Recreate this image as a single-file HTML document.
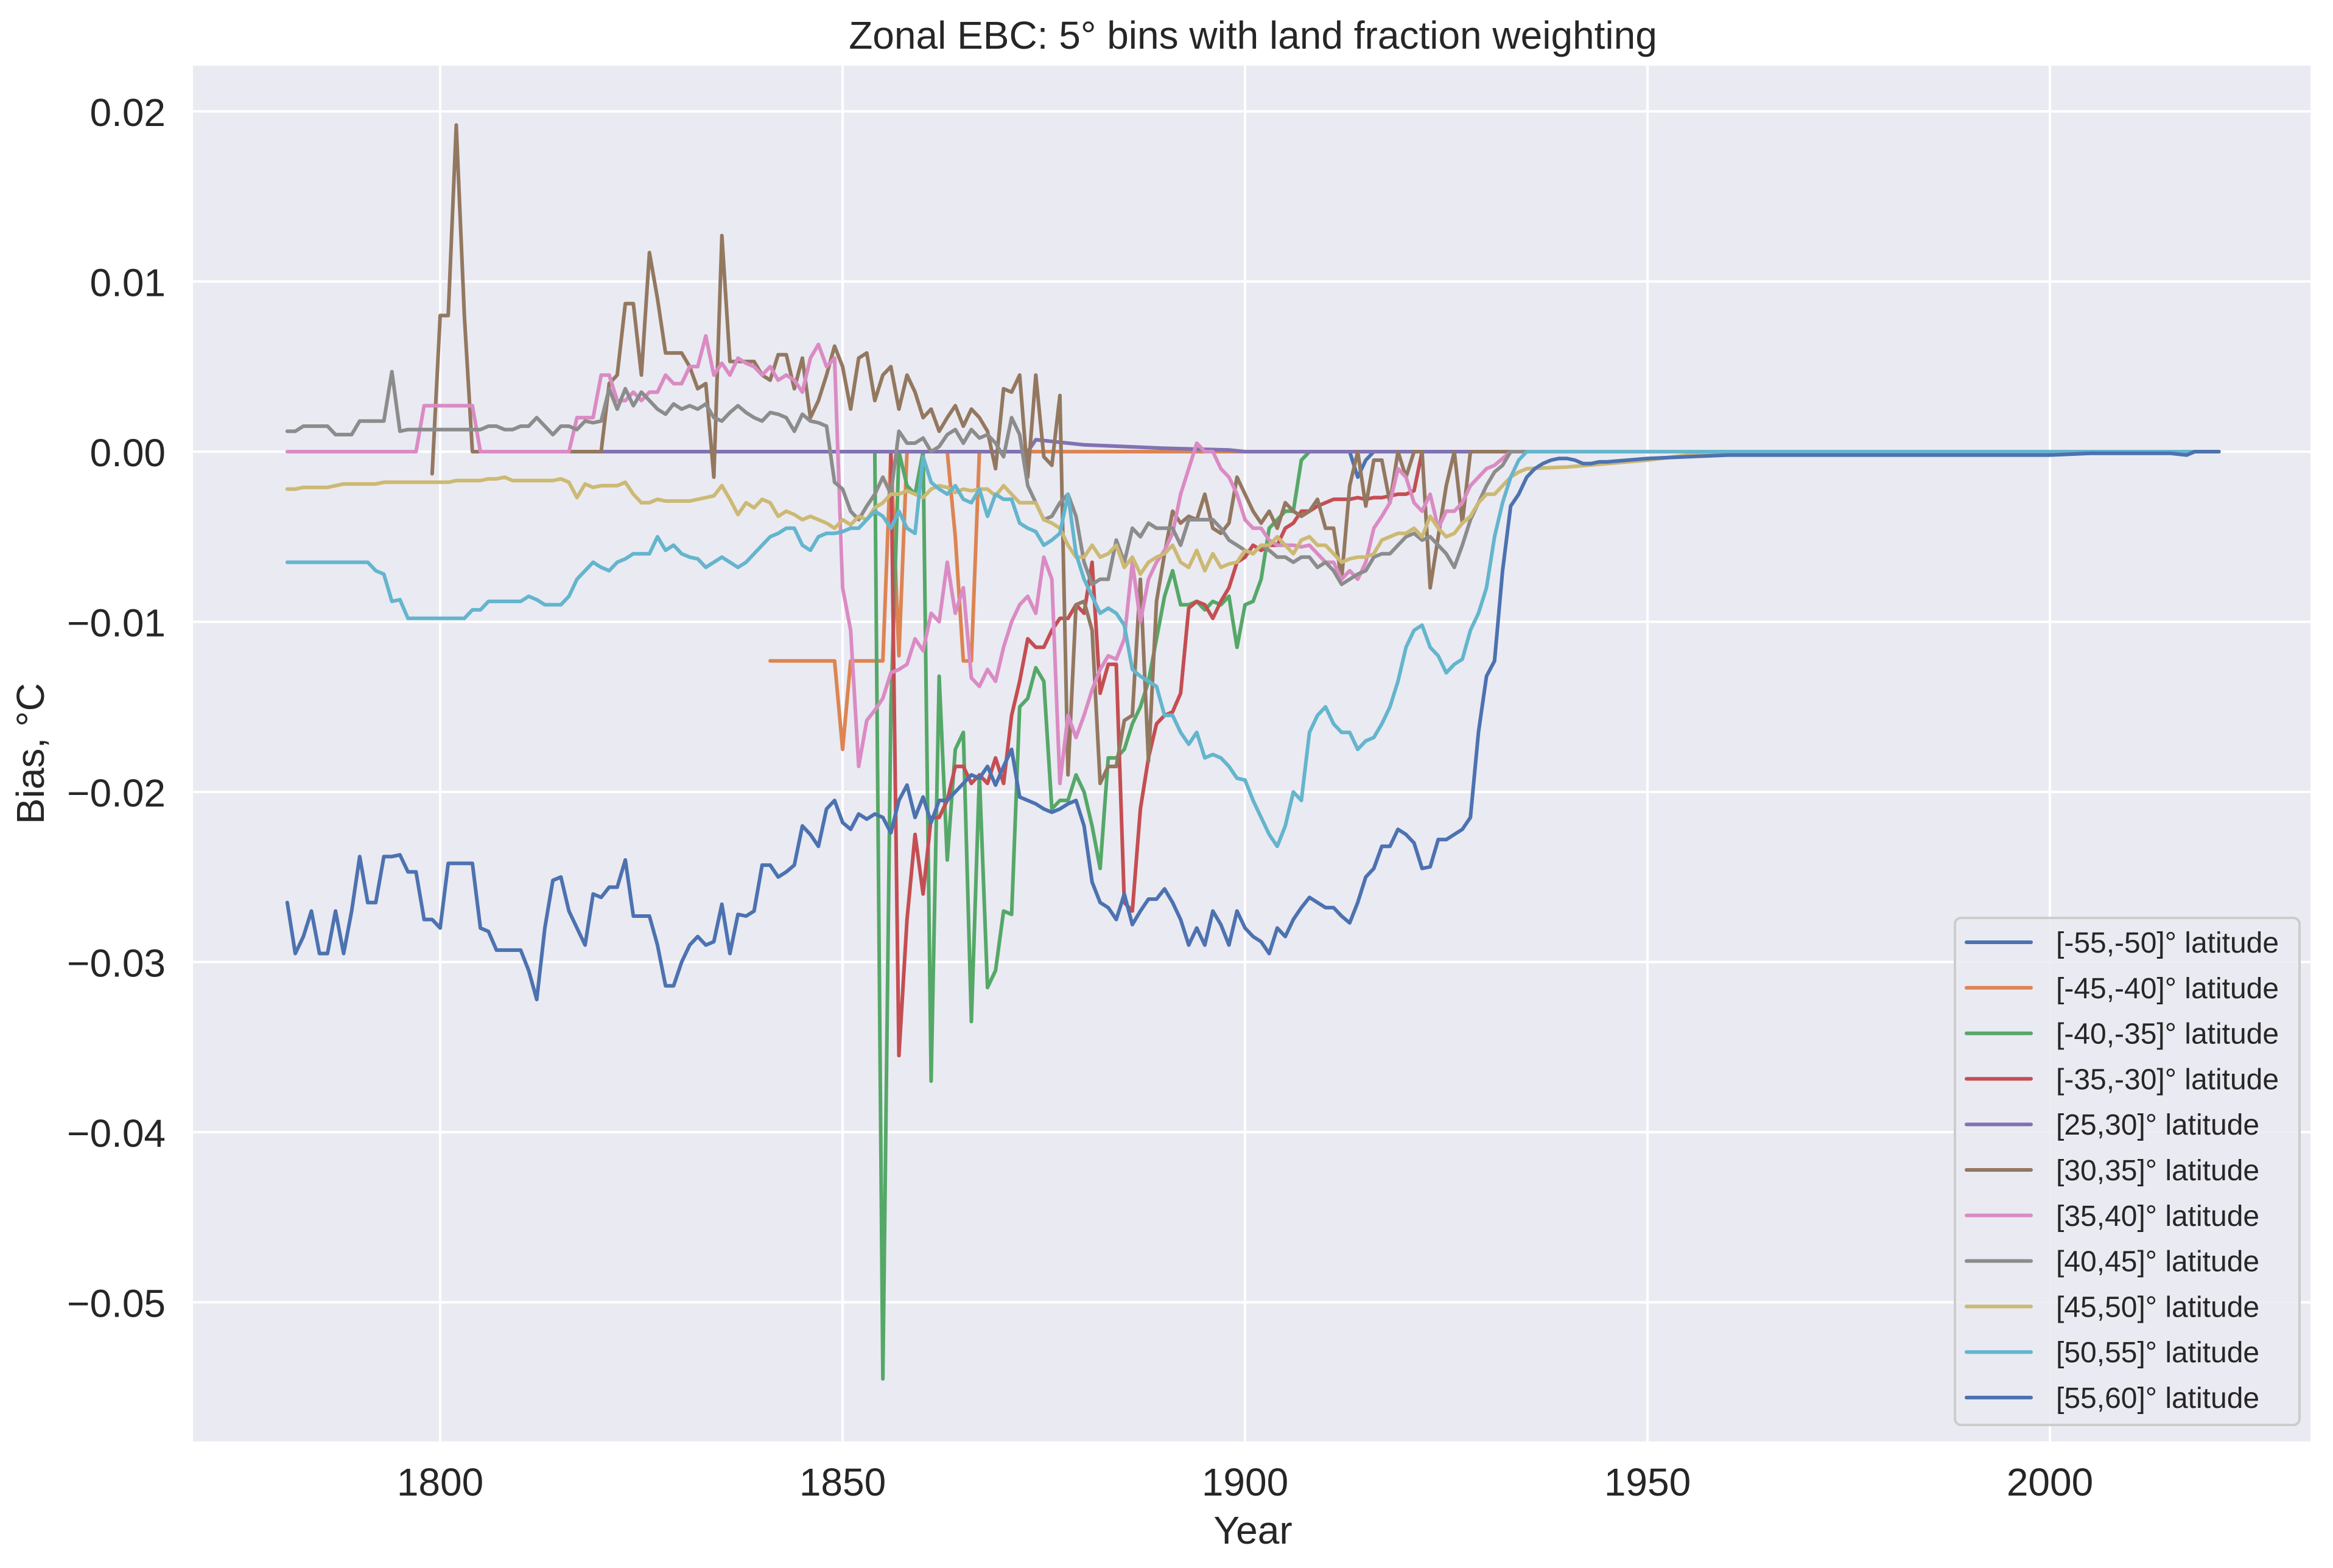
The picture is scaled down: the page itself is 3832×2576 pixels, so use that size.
<!DOCTYPE html>
<html><head><meta charset="utf-8"><title>Zonal EBC</title>
<style>html,body{margin:0;padding:0;background:#fff}svg{display:block}</style></head>
<body>
<svg id="chart" xmlns="http://www.w3.org/2000/svg" width="3832" height="2576" viewBox="0 0 3832 2576" font-family="Liberation Sans, Arial, sans-serif">
<rect x="0" y="0" width="3832" height="2576" fill="#ffffff"/>
<rect x="317" y="108" width="3478" height="2260" fill="#eaeaf2"/>
<g id="grid"></g>
<g id="ticks"></g>
<clipPath id="clip"><rect x="317" y="108" width="3478" height="2260"/></clipPath>
<g id="series" clip-path="url(#clip)"></g>
<text x="2058" y="80" text-anchor="middle" font-size="64" fill="#262626">Zonal EBC: 5° bins with land fraction weighting</text>
<text x="2058" y="2536" text-anchor="middle" font-size="64" fill="#262626">Year</text>
<text x="0" y="0" transform="translate(72,1238) rotate(-90)" text-anchor="middle" font-size="64" fill="#262626">Bias, °C</text>
<g id="legend"></g>
</svg>
<script>
const xTicks = [1800, 1850, 1900, 1950, 2000];
const yTicks = [0.02, 0.01, 0, -0.01, -0.02, -0.03, -0.04, -0.05];
const yTickLabels = ["0.02","0.01","0.00","\u22120.01","\u22120.02","\u22120.03","\u22120.04","\u22120.05"];
const seriesNames = ["[-55,-50]° latitude","[-45,-40]° latitude","[-40,-35]° latitude","[-35,-30]° latitude","[25,30]° latitude","[30,35]° latitude","[35,40]° latitude","[40,45]° latitude","[45,50]° latitude","[50,55]° latitude","[55,60]° latitude"];
const seriesColors = ["#4c72b0","#dd8452","#55a868","#c44e52","#8172b3","#937860","#da8bc3","#8c8c8c","#ccb974","#64b5cd","#4c72b0"];

const s0Start = 1913;
const s0Vals = [0,-0.0015,-0.0005,0,0,0];
const s0TailYears = [1950,2000,2021];
const s0TailVals = [0,0,0];

const s1Start = 1841;
const s1Vals = [-0.0123,-0.0123,-0.0123,-0.0123,-0.0123,-0.0123,-0.0123,-0.0123,-0.0123,-0.0175,-0.0123,-0.0123,-0.0123,-0.0123,-0.0123,0,-0.012,0,0,0,0,0,0,-0.005,-0.0123,-0.0123,0];
const s1TailYears = [1880,1900];
const s1TailVals = [0,0];

const s2Start = 1854;
const s2Vals = [0,-0.0545,-0.015,0,-0.002,-0.0025,0,-0.037,-0.0132,-0.024,-0.0175,-0.0165,-0.0335,-0.019,-0.0315,-0.0305,-0.027,-0.0272,-0.015,-0.0145,-0.0127,-0.0135,-0.021,-0.0205,-0.0205,-0.019,-0.02,-0.022,-0.0245,-0.018,-0.018,-0.0175,-0.016,-0.015,-0.0135,-0.011,-0.0085,-0.007,-0.009,-0.009,-0.0088,-0.0093,-0.0088,-0.009,-0.0085,-0.0115,-0.009,-0.0088,-0.0075,-0.0045,-0.004,-0.0035,-0.0035,-0.0005,0];
const s2TailYears = [1950,2000,2021];
const s2TailVals = [0,0,0];

const s3Start = 1856;
const s3Vals = [0,-0.0355,-0.0275,-0.0225,-0.026,-0.0215,-0.0215,-0.0205,-0.0185,-0.0185,-0.0195,-0.019,-0.0195,-0.018,-0.0195,-0.0155,-0.0135,-0.011,-0.0115,-0.0115,-0.0105,-0.0098,-0.0098,-0.009,-0.0095,-0.0065,-0.0142,-0.0125,-0.0125,-0.0265,-0.027,-0.021,-0.018,-0.016,-0.0155,-0.0153,-0.0142,-0.0092,-0.0088,-0.009,-0.0098,-0.0088,-0.008,-0.0065,-0.0062,-0.0055,-0.0058,-0.0055,-0.0055,-0.0045,-0.0042,-0.0035,-0.0035,-0.0032,-0.003,-0.0028,-0.0028,-0.0028,-0.0027,-0.0028,-0.0027,-0.0027,-0.0026,-0.0025,-0.0025,-0.0023,0];
const s3TailYears = [1950,2000,2021];
const s3TailVals = [0,0,0];

const s4Start = 1816;
const s4Vals = [0,0,0,0,0,0,0,0,0,0];
const s4TailYears = [1873,1874,1880,1890,1898,1900,1950,2021];
const s4TailVals = [0,0.0007,0.0004,0.0002,0.0001,0,0,0];

const s5Start = 1799;
const s5Vals = [-0.0013,0.008,0.008,0.0192,0.008,0,0,0,0,0,0,0,0,0,0,0,0,0,0,0,0,0,0.004,0.0045,0.0087,0.0087,0.0045,0.0117,0.009,0.0058,0.0058,0.0058,0.005,0.0037,0.004,-0.0015,0.0127,0.0053,0.0053,0.0053,0.0053,0.0045,0.0042,0.0057,0.0057,0.0037,0.0055,0.002,0.003,0.0045,0.0062,0.005,0.0025,0.0055,0.0058,0.003,0.0045,0.005,0.0025,0.0045,0.0035,0.002,0.0025,0.0012,0.002,0.0027,0.0015,0.0025,0.002,0.0012,-0.001,0.0037,0.0035,0.0045,-0.0015,0.0045,-0.0003,-0.0008,0.0033,-0.019,-0.009,-0.0088,-0.0105,-0.0195,-0.0185,-0.0185,-0.0158,-0.0155,-0.0075,-0.0182,-0.0088,-0.006,-0.0035,-0.0042,-0.0038,-0.004,-0.0025,-0.0045,-0.0048,-0.0042,-0.0015,-0.0025,-0.0035,-0.0042,-0.0035,-0.0045,-0.003,-0.0035,-0.0038,-0.0035,-0.0028,-0.0045,-0.0045,-0.0075,-0.002,0,-0.0032,-0.0005,-0.0005,-0.003,0,-0.0015,0,0,-0.008,-0.005,-0.002,0,-0.0042,0,0];
const s5TailYears = [1950,2000,2021];
const s5TailVals = [0,0,0];

const s6Start = 1781;
const s6Vals = [0,0,0,0,0,0,0,0,0,0,0,0,0,0,0,0,0,0.0027,0.0027,0.0027,0.0027,0.0027,0.0027,0.0027,0,0,0,0,0,0,0,0,0,0,0,0,0.002,0.002,0.002,0.0045,0.0045,0.003,0.003,0.0035,0.003,0.0035,0.0035,0.0045,0.004,0.004,0.005,0.005,0.0068,0.0045,0.0052,0.0045,0.0055,0.0052,0.005,0.0045,0.005,0.0042,0.0045,0.0042,0.0035,0.0055,0.0063,0.005,0.0055,-0.008,-0.0105,-0.0185,-0.0158,-0.0152,-0.0145,-0.013,-0.0128,-0.0125,-0.011,-0.0117,-0.0095,-0.01,-0.0065,-0.0095,-0.008,-0.0133,-0.0138,-0.0128,-0.0135,-0.0115,-0.01,-0.009,-0.0085,-0.0095,-0.0062,-0.0075,-0.0195,-0.0155,-0.0168,-0.0155,-0.014,-0.0128,-0.012,-0.0122,-0.011,-0.0065,-0.01,-0.0075,-0.0065,-0.0058,-0.0048,-0.0025,-0.001,0.0005,0,0,-0.001,-0.0015,-0.0025,-0.004,-0.0045,-0.0045,-0.0052,-0.0055,-0.0055,-0.0055,-0.0056,-0.0055,-0.006,-0.0065,-0.0065,-0.0075,-0.007,-0.0075,-0.0065,-0.0045,-0.0038,-0.003,-0.001,-0.0015,-0.003,-0.0035,-0.0025,-0.0045,-0.0035,-0.0035,-0.003,-0.002,-0.0015,-0.001,-0.0008,-0.0004,0];
const s6TailYears = [1950,2000,2021];
const s6TailVals = [0,0,0];

const s7Start = 1781;
const s7Vals = [0.0012,0.0012,0.0015,0.0015,0.0015,0.0015,0.001,0.001,0.001,0.0018,0.0018,0.0018,0.0018,0.0047,0.0012,0.0013,0.0013,0.0013,0.0013,0.0013,0.0013,0.0013,0.0013,0.0013,0.0013,0.0015,0.0015,0.0013,0.0013,0.0015,0.0015,0.002,0.0015,0.001,0.0015,0.0015,0.0013,0.0018,0.0017,0.0018,0.0037,0.0025,0.0037,0.0027,0.0035,0.003,0.0025,0.0022,0.0028,0.0025,0.0027,0.0025,0.0028,0.002,0.0018,0.0023,0.0027,0.0023,0.002,0.0018,0.0023,0.0022,0.002,0.0012,0.0022,0.0018,0.0017,0.0015,-0.0018,-0.0022,-0.0035,-0.004,-0.0032,-0.0025,-0.0015,-0.0025,0.0012,0.0005,0.0005,0.0008,0,0.0003,0.001,0.0013,0.0005,0.0013,0.0008,0.001,0.0005,-0.0003,0.002,0.001,-0.002,-0.003,-0.004,-0.0038,-0.003,-0.0025,-0.0038,-0.0065,-0.0078,-0.0075,-0.0075,-0.0052,-0.0065,-0.0045,-0.005,-0.0042,-0.0045,-0.0045,-0.0045,-0.0055,-0.004,-0.004,-0.004,-0.004,-0.0045,-0.0052,-0.0055,-0.0058,-0.006,-0.0055,-0.0058,-0.0062,-0.0062,-0.0065,-0.0062,-0.0062,-0.0068,-0.0065,-0.007,-0.0078,-0.0075,-0.0072,-0.007,-0.0062,-0.006,-0.006,-0.0055,-0.005,-0.0048,-0.0052,-0.005,-0.0055,-0.006,-0.0068,-0.0055,-0.004,-0.003,-0.002,-0.0012,-0.0008,0];
const s7TailYears = [1950,2000,2021];
const s7TailVals = [0,0,0];

const s8Start = 1781;
const s8Vals = [-0.0022,-0.0022,-0.0021,-0.0021,-0.0021,-0.0021,-0.002,-0.0019,-0.0019,-0.0019,-0.0019,-0.0019,-0.0018,-0.0018,-0.0018,-0.0018,-0.0018,-0.0018,-0.0018,-0.0018,-0.0018,-0.0017,-0.0017,-0.0017,-0.0017,-0.0016,-0.0016,-0.0015,-0.0017,-0.0017,-0.0017,-0.0017,-0.0017,-0.0017,-0.0016,-0.0018,-0.0027,-0.0019,-0.0021,-0.002,-0.002,-0.002,-0.0018,-0.0025,-0.003,-0.003,-0.0028,-0.0029,-0.0029,-0.0029,-0.0029,-0.0028,-0.0027,-0.0026,-0.002,-0.0028,-0.0037,-0.003,-0.0033,-0.0028,-0.003,-0.0038,-0.0035,-0.0037,-0.004,-0.0038,-0.004,-0.0042,-0.0045,-0.004,-0.0043,-0.0038,-0.004,-0.0033,-0.003,-0.0025,-0.0025,-0.0023,-0.0025,-0.0027,-0.0022,-0.002,-0.0021,-0.0024,-0.0022,-0.0023,-0.0022,-0.0022,-0.0026,-0.002,-0.0025,-0.003,-0.003,-0.003,-0.004,-0.0042,-0.0045,-0.0055,-0.0062,-0.0062,-0.0055,-0.0062,-0.006,-0.0055,-0.0068,-0.0062,-0.0072,-0.0065,-0.0062,-0.006,-0.0055,-0.0065,-0.0068,-0.0058,-0.007,-0.006,-0.0068,-0.0066,-0.0065,-0.0058,-0.006,-0.0055,-0.0055,-0.005,-0.0055,-0.006,-0.0052,-0.005,-0.0055,-0.0055,-0.006,-0.0065,-0.0063,-0.0062,-0.0062,-0.006,-0.0052,-0.005,-0.0048,-0.0048,-0.0045,-0.005,-0.0038,-0.0045,-0.005,-0.0048,-0.0042,-0.0038,-0.003,-0.0025,-0.0025,-0.002,-0.0015,-0.0012,-0.001];
const s8TailYears = [1940,1945,1950,1955,1960,1965,2021];
const s8TailVals = [-0.0009,-0.0007,-0.0005,-0.0002,-0.0001,0,0];

const s9Start = 1781;
const s9Vals = [-0.0065,-0.0065,-0.0065,-0.0065,-0.0065,-0.0065,-0.0065,-0.0065,-0.0065,-0.0065,-0.0065,-0.007,-0.0072,-0.0088,-0.0087,-0.0098,-0.0098,-0.0098,-0.0098,-0.0098,-0.0098,-0.0098,-0.0098,-0.0093,-0.0093,-0.0088,-0.0088,-0.0088,-0.0088,-0.0088,-0.0085,-0.0087,-0.009,-0.009,-0.009,-0.0085,-0.0075,-0.007,-0.0065,-0.0068,-0.007,-0.0065,-0.0063,-0.006,-0.006,-0.006,-0.005,-0.0058,-0.0055,-0.006,-0.0062,-0.0063,-0.0068,-0.0065,-0.0062,-0.0065,-0.0068,-0.0065,-0.006,-0.0055,-0.005,-0.0048,-0.0045,-0.0045,-0.0055,-0.0058,-0.005,-0.0048,-0.0048,-0.0047,-0.0045,-0.0045,-0.004,-0.0035,-0.0038,-0.0045,-0.0035,-0.0045,-0.0048,-0.0003,-0.0018,-0.0022,-0.0025,-0.002,-0.0028,-0.003,-0.0022,-0.0038,-0.0025,-0.0028,-0.0028,-0.0042,-0.0045,-0.0047,-0.0055,-0.0052,-0.0048,-0.0025,-0.006,-0.0075,-0.0085,-0.0095,-0.0092,-0.0095,-0.0102,-0.0128,-0.0132,-0.0135,-0.0138,-0.0155,-0.0155,-0.0165,-0.0172,-0.0165,-0.018,-0.0178,-0.018,-0.0185,-0.0192,-0.0193,-0.0205,-0.0215,-0.0225,-0.0232,-0.022,-0.02,-0.0205,-0.0165,-0.0155,-0.015,-0.016,-0.0165,-0.0165,-0.0175,-0.017,-0.0168,-0.016,-0.015,-0.0135,-0.0115,-0.0105,-0.0102,-0.0115,-0.012,-0.013,-0.0125,-0.0122,-0.0105,-0.0095,-0.008,-0.005,-0.003,-0.0015,-0.0005,0];
const s9TailYears = [1950,2000,2021];
const s9TailVals = [0,0,0];

const s10Start = 1781;
const s10Vals = [-0.0265,-0.0295,-0.0285,-0.027,-0.0295,-0.0295,-0.027,-0.0295,-0.027,-0.0238,-0.0265,-0.0265,-0.0238,-0.0238,-0.0237,-0.0247,-0.0247,-0.0275,-0.0275,-0.028,-0.0242,-0.0242,-0.0242,-0.0242,-0.028,-0.0282,-0.0293,-0.0293,-0.0293,-0.0293,-0.0305,-0.0322,-0.028,-0.0252,-0.025,-0.027,-0.028,-0.029,-0.026,-0.0262,-0.0256,-0.0256,-0.024,-0.0273,-0.0273,-0.0273,-0.029,-0.0314,-0.0314,-0.03,-0.029,-0.0285,-0.029,-0.0288,-0.0266,-0.0295,-0.0272,-0.0273,-0.027,-0.0243,-0.0243,-0.025,-0.0247,-0.0243,-0.022,-0.0225,-0.0232,-0.021,-0.0205,-0.0218,-0.0222,-0.0213,-0.0216,-0.0213,-0.0215,-0.0224,-0.0205,-0.0196,-0.0215,-0.0203,-0.0218,-0.0205,-0.0205,-0.02,-0.0195,-0.019,-0.0192,-0.0185,-0.0196,-0.0185,-0.0175,-0.0203,-0.0205,-0.0207,-0.021,-0.0212,-0.021,-0.0207,-0.0205,-0.022,-0.0253,-0.0265,-0.0268,-0.0275,-0.026,-0.0278,-0.027,-0.0263,-0.0263,-0.0257,-0.0265,-0.0275,-0.029,-0.028,-0.029,-0.027,-0.0278,-0.029,-0.027,-0.028,-0.0285,-0.0288,-0.0295,-0.028,-0.0285,-0.0275,-0.0268,-0.0262,-0.0265,-0.0268,-0.0268,-0.0273,-0.0277,-0.0265,-0.025,-0.0245,-0.0232,-0.0232,-0.0222,-0.0225,-0.023,-0.0245,-0.0244,-0.0228,-0.0228,-0.0225,-0.0222,-0.0215,-0.0165,-0.0132,-0.0123,-0.007,-0.0032,-0.0025,-0.0015,-0.001,-0.0007,-0.0005,-0.0004,-0.0004,-0.0005,-0.0007,-0.0007,-0.0006,-0.0006];
const s10TailYears = [1950,1960,1980,2000,2005,2015,2017,2018,2021];
const s10TailVals = [-0.0004,-0.0002,-0.0002,-0.0002,-0.0001,-0.0001,-0.0002,0,0];

const seriesStarts = [s0Start,s1Start,s2Start,s3Start,s4Start,s5Start,s6Start,s7Start,s8Start,s9Start,s10Start];
const seriesVals = [s0Vals,s1Vals,s2Vals,s3Vals,s4Vals,s5Vals,s6Vals,s7Vals,s8Vals,s9Vals,s10Vals];
const seriesTailYears = [s0TailYears,s1TailYears,s2TailYears,s3TailYears,s4TailYears,s5TailYears,s6TailYears,s7TailYears,s8TailYears,s9TailYears,s10TailYears];
const seriesTailVals = [s0TailVals,s1TailVals,s2TailVals,s3TailVals,s4TailVals,s5TailVals,s6TailVals,s7TailVals,s8TailVals,s9TailVals,s10TailVals];

const NS = "http://www.w3.org/2000/svg";
const PL = 317, PR = 3795, PT = 108, PB = 2368;
function xScale(year){ return 723 + (year - 1800) * 13.22; }
function yScale(v){ return 742 - v * 27950; }

const grid = document.getElementById('grid');
const ticks = document.getElementById('ticks');
xTicks.forEach(function(t){
  const l = document.createElementNS(NS,'line');
  l.setAttribute('x1', xScale(t)); l.setAttribute('x2', xScale(t));
  l.setAttribute('y1', PT); l.setAttribute('y2', PB);
  l.setAttribute('stroke','#ffffff'); l.setAttribute('stroke-width','4');
  
  
  grid.appendChild(l);
  const tx = document.createElementNS(NS,'text');
  tx.setAttribute('x', xScale(t)); tx.setAttribute('y', 2457);
  tx.setAttribute('text-anchor','middle'); tx.setAttribute('font-size','64'); tx.setAttribute('fill','#262626');
  tx.textContent = String(t);
  
  
  ticks.appendChild(tx);
});
yTicks.forEach(function(t,i){
  const l = document.createElementNS(NS,'line');
  l.setAttribute('x1', PL); l.setAttribute('x2', PR);
  l.setAttribute('y1', yScale(t)); l.setAttribute('y2', yScale(t));
  l.setAttribute('stroke','#ffffff'); l.setAttribute('stroke-width','4');
  
  
  grid.appendChild(l);
  const tx = document.createElementNS(NS,'text');
  tx.setAttribute('x', 272); tx.setAttribute('y', yScale(t) + 24);
  tx.setAttribute('text-anchor','end'); tx.setAttribute('font-size','64'); tx.setAttribute('fill','#262626');
  tx.textContent = yTickLabels[i];
  
  
  ticks.appendChild(tx);
});

const sg = document.getElementById('series');
seriesVals.forEach(function(vals, i){
  const pts = [];
  vals.forEach(function(v, k){ pts.push(xScale(seriesStarts[i] + k).toFixed(1) + ',' + yScale(v).toFixed(1)); });
  const lastYear = seriesStarts[i] + vals.length - 1;
  seriesTailYears[i].forEach(function(y, k){ if (y > lastYear) pts.push(xScale(y).toFixed(1) + ',' + yScale(seriesTailVals[i][k]).toFixed(1)); });
  const p = document.createElementNS(NS,'polyline');
  p.setAttribute('points', pts.join(' '));
  p.setAttribute('fill','none'); p.setAttribute('stroke', seriesColors[i]);
  p.setAttribute('stroke-width','6'); p.setAttribute('stroke-linejoin','round'); p.setAttribute('stroke-linecap','round');
  
  
  sg.appendChild(p);
});

const lg = document.getElementById('legend');
const box = document.createElementNS(NS,'rect');
box.setAttribute('x',3211); box.setAttribute('y',1508); box.setAttribute('width',566); box.setAttribute('height',833);
box.setAttribute('rx',10); box.setAttribute('fill','#eaeaf2'); box.setAttribute('fill-opacity','0.85');
box.setAttribute('stroke','#cccccc'); box.setAttribute('stroke-width','4');


lg.appendChild(box);
seriesNames.forEach(function(name, i){
  const y = 1548 + i * 74.8;
  const g = document.createElementNS(NS,'g');
  
  
  const l = document.createElementNS(NS,'line');
  l.setAttribute('x1',3230); l.setAttribute('x2',3336); l.setAttribute('y1',y); l.setAttribute('y2',y);
  l.setAttribute('stroke', seriesColors[i]); l.setAttribute('stroke-width','6'); l.setAttribute('stroke-linecap','round');
  
  
  g.appendChild(l);
  const t = document.createElementNS(NS,'text');
  t.setAttribute('x',3377); t.setAttribute('y',y + 17); t.setAttribute('font-size','48'); t.setAttribute('fill','#262626');
  t.textContent = name;
  
  
  g.appendChild(t);
  lg.appendChild(g);
});
</script>
</body></html>
